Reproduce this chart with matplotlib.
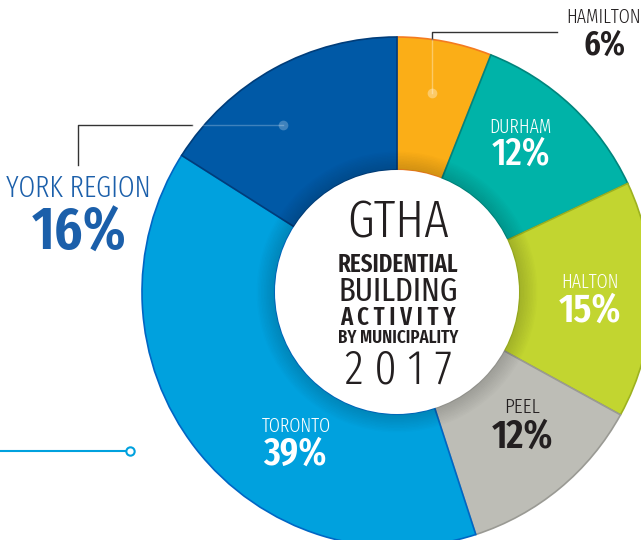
import matplotlib
matplotlib.use("Agg")
import matplotlib.pyplot as plt
from matplotlib import font_manager
from matplotlib.patches import Wedge, Circle

# data (clockwise from 12 o'clock)
municipalities = ["HAMILTON", "DURHAM", "HALTON", "PEEL", "TORONTO", "YORK REGION"]
shares = [6, 12, 15, 12, 39, 16]
colors = ["#FBAE17", "#00B3A8", "#C2D530", "#BDBDB6", "#00A1DE", "#0059A6"]
edges = ["#F47B20", "#00857D", "#9DB21F", "#9A9A94", "#0066C4", "#003D7A"]
title_lines = ["GTHA", "RESIDENTIAL", "BUILDING", "A C T I V I T Y", "BY MUNICIPALITY", "2 0 1 7"]

installed = {f.name for f in font_manager.fontManager.ttflist}
COND = next((f for f in ["Fira Sans Extra Condensed", "Barlow Condensed", "Roboto Condensed"]
             if f in installed), "DejaVu Sans")

W, H = 641, 540
CX, CY = 397, 292          # donut centre in pixel coords (y down)
R_OUT, R_IN = 255, 122


def Y(y):
    return H - y


fig = plt.figure(figsize=(W / 100, H / 100), dpi=100)
ax = fig.add_axes([0, 0, 1, 1])

wedges, _ = ax.pie(shares, colors=colors, startangle=90, counterclock=False,
                   radius=R_OUT, center=(CX, Y(CY)), frame=True,
                   wedgeprops=dict(width=R_OUT - R_IN, linewidth=1.2))
for w, ec in zip(wedges, edges):
    w.set_edgecolor(ec)
ax.set_xlim(0, W)
ax.set_ylim(0, H)
ax.set_aspect("equal")
ax.axis("off")

# soft shadow around the hole
for i in range(12):
    ax.add_patch(Wedge((CX, Y(CY)), R_IN + 2 + i * 1.5, 0, 360, width=1.5,
                       facecolor="black", alpha=0.16 * (1 - i / 12), lw=0))
ax.add_patch(Circle((CX, Y(CY)), R_IN, facecolor="white", lw=0))

dark = "#231F20"
york_blue = "#1B5FAA"
renderer = fig.canvas.get_renderer()

# centre title: baseline y, cap height (px), weight, target width (px)
title_style = [(238, 36, 300, 114), (272, 18, 600, 120), (301, 26, 400, 120),
               (325, 17, 600, 120), (343, 13, 600, 120), (383, 33, 300, 120)]
for txt, (yb, cap, weight, width) in zip(title_lines, title_style):
    size = cap * 1.045
    t = ax.text(CX + 1, Y(yb), txt, ha="center", va="baseline", fontsize=size,
                fontweight=weight, color=dark, family=COND)
    bw = t.get_window_extent(renderer).width
    if bw > width:
        t.set_fontsize(size * width / bw)

# wedge labels: name (x, baseline, size), pct (x, baseline, size, weight), colour
label_pos = {
    "HAMILTON": ((604, 23, 14), (605, 55, 25, 600), dark),
    "DURHAM": ((520, 133, 14), (521, 165, 28, 500), "white"),
    "HALTON": ((590, 288, 14), (590, 322, 29, 600), "white"),
    "PEEL": ((522, 413, 15), (523, 448, 29, 600), dark),
    "TORONTO": ((296, 432, 14), (295, 465, 28, 600), "white"),
    "YORK REGION": ((78, 197, 21), (79, 250, 43, 600), york_blue),
}
for name, share in zip(municipalities, shares):
    (nx, ny, s1), (px, py, s2, pw), c = label_pos[name]
    ax.text(nx, Y(ny), name, ha="center", va="baseline", fontsize=s1,
            fontweight=300, color=c, family=COND)
    ax.text(px, Y(py), f"{share}%", ha="center", va="baseline", fontsize=s2,
            fontweight=pw, color=c, family=COND)

# leader lines
ax.plot([78, 78, 192], [Y(165), Y(125), Y(125)], color="#333333", lw=1)
ax.plot([192, 283], [Y(125), Y(125)], color="white", alpha=0.25, lw=1)
ax.plot(283, Y(125), "o", ms=7, color="white", alpha=0.25, mec="none")

ax.plot([557, 432, 432], [Y(32), Y(32), Y(39)], color="#333333", lw=1)
ax.plot([432, 432], [Y(39), Y(93)], color="white", alpha=0.35, lw=1)
ax.plot(432, Y(93), "o", ms=7, color="white", alpha=0.35, mec="none")

ax.plot([0, 127], [Y(451), Y(451)], color="#00A1DE", lw=1.5)
ax.plot(130, Y(451), "o", ms=6, mfc="white", mec="#00A1DE", mew=1.5)

fig.savefig("out.png", dpi=100)
